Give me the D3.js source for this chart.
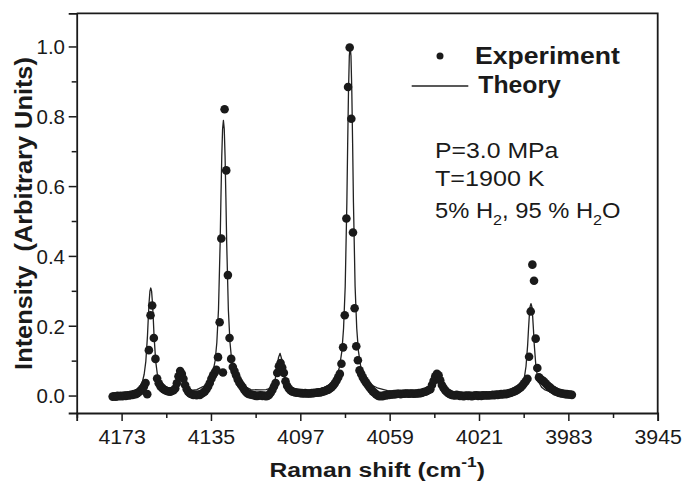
<!DOCTYPE html>
<html><head><meta charset="utf-8">
<script src="https://cdn.jsdelivr.net/npm/d3@7"></script>
<style>
body{margin:0;background:#fff}
svg{display:block}
text{font-family:"Liberation Sans",Arial,Helvetica,sans-serif;fill:#1a1a1a}
</style>
</head><body>
<svg id="chart" width="685" height="484"></svg>
<script>
// ---------- data ----------
const expShift = [
4176.8,4176.1,4175.4,4174.7,4174.0,4173.3,4172.6,4171.9,4171.2,4170.5,
4169.8,4169.1,4168.4,4167.7,4167.0,4166.3,4165.6,4164.9,4164.2,4163.5,
4162.8,4162.1,4161.4,4160.7,4160.0,4159.3,4158.6,4157.9,4157.2,4156.5,
4155.8,4155.1,4154.4,4153.7,4153.0,4152.3,4151.6,4150.9,4150.2,4149.5,
4148.8,4148.1,4147.4,4146.7,4146.0,4145.3,4144.6,4143.9,4143.2,4142.5,
4141.8,4141.1,4140.4,4139.7,4139.0,4138.3,4137.6,4136.9,4136.2,4135.5,
4134.8,4134.1,4133.4,4132.7,4132.0,4131.3,4130.6,4129.9,4129.2,4128.5,
4127.8,4127.1,4126.4,4125.7,4125.0,4124.3,4123.6,4122.9,4122.2,4121.5,
4120.8,4120.1,4119.4,4118.7,4118.0,4117.3,4116.6,4115.9,4115.2,4114.5,
4113.8,4113.1,4112.4,4111.7,4111.0,4110.3,4109.6,4108.9,4108.2,4107.5,
4106.8,4106.1,4105.4,4104.7,4104.0,4103.3,4102.6,4101.9,4101.2,4100.5,
4099.8,4099.1,4098.4,4097.7,4097.0,4096.3,4095.6,4094.9,4094.2,4093.5,
4092.8,4092.1,4091.4,4090.7,4090.0,4089.3,4088.6,4087.9,4087.2,4086.5,
4085.8,4085.1,4084.4,4083.7,4083.0,4082.3,4081.6,4080.9,4080.2,4079.5,
4078.8,4078.1,4077.4,4076.7,4076.0,4075.3,4074.6,4073.9,4073.2,4072.5,
4071.8,4071.1,4070.4,4069.7,4069.0,4068.3,4067.6,4066.9,4066.2,4065.5,
4064.8,4064.1,4063.4,4062.7,4062.0,4061.3,4060.6,4059.9,4059.2,4058.5,
4057.8,4057.1,4056.4,4055.7,4055.0,4054.3,4053.6,4052.9,4052.2,4051.5,
4050.8,4050.1,4049.4,4048.7,4048.0,4047.3,4046.6,4045.9,4045.2,4044.5,
4043.8,4043.1,4042.4,4041.7,4041.0,4040.3,4039.6,4038.9,4038.2,4037.5,
4036.8,4036.1,4035.4,4034.7,4034.0,4033.3,4032.6,4031.9,4031.2,4030.5,
4029.8,4029.1,4028.4,4027.7,4027.0,4026.3,4025.6,4024.9,4024.2,4023.5,
4022.8,4022.1,4021.4,4020.7,4020.0,4019.3,4018.6,4017.9,4017.2,4016.5,
4015.8,4015.1,4014.4,4013.7,4013.0,4012.3,4011.6,4010.9,4010.2,4009.5,
4008.8,4008.1,4007.4,4006.7,4006.0,4005.3,4004.6,4003.9,4003.2,4002.5,
4001.8,4001.1,4000.4,3999.7,3999.0,3998.3,3997.6,3996.9,3996.2,3995.5,
3994.8,3994.1,3993.4,3992.7,3992.0,3991.3,3990.6,3989.9,3989.2,3988.5,
3987.8,3987.1,3986.4,3985.7,3985.0,3984.3,3983.6,3982.9,3982.2,3981.5
];
const expIntensity = [
-0.003,-0.002,-0.003,-0.001,-0.002,-0.001,-0.002,0.000,-0.001,0.001,
0.000,0.002,0.002,0.004,0.004,0.007,0.010,0.014,0.020,0.026,
0.036,0.004,0.130,0.230,0.258,0.165,0.105,0.049,0.035,0.027,
0.022,0.018,0.015,0.013,0.012,0.011,0.013,0.015,0.020,0.035,
0.055,0.070,0.062,0.048,0.030,0.018,0.010,0.006,0.004,0.002,
0.003,0.001,0.003,0.002,0.005,0.008,0.012,0.018,0.026,0.036,
0.048,0.058,0.066,0.074,0.110,0.210,0.450,0.066,0.820,0.645,
0.345,0.165,0.105,0.082,0.070,0.058,0.046,0.037,0.030,0.024,
0.016,0.010,0.006,0.004,0.003,0.002,0.001,-0.001,-0.001,0.000,
0.001,-0.001,0.000,-0.002,-0.001,0.002,0.008,0.016,0.026,0.036,
0.065,0.084,0.093,0.080,0.065,0.041,0.028,0.020,0.015,0.012,
0.010,0.009,0.008,0.008,0.007,0.007,0.006,0.007,0.006,0.006,
0.006,0.007,0.007,0.008,0.008,0.009,0.009,0.010,0.012,0.013,
0.015,0.017,0.020,0.024,0.029,0.035,0.043,0.052,0.062,0.091,
0.138,0.230,0.507,0.884,0.997,0.793,0.467,0.250,0.141,0.101,
0.072,0.062,0.052,0.044,0.037,0.030,0.024,0.018,0.012,0.008,
0.004,0.000,-0.002,-0.001,-0.002,0.001,0.000,0.002,0.002,0.003,
0.003,0.004,0.004,0.005,0.005,0.004,0.005,0.005,0.006,0.006,
0.005,0.006,0.006,0.005,0.006,0.006,0.007,0.007,0.008,0.010,
0.011,0.013,0.016,0.018,0.030,0.042,0.055,0.062,0.058,0.044,
0.030,0.022,0.015,0.010,0.007,0.004,0.002,0.001,0.000,0.002,
0.001,-0.001,0.000,-0.002,-0.001,0.000,-0.001,0.000,-0.002,-0.001,
0.000,0.001,-0.001,0.000,-0.001,0.001,0.000,0.001,0.000,0.001,
0.001,0.002,0.001,0.003,0.002,0.003,0.004,0.003,0.005,0.004,
0.006,0.007,0.008,0.010,0.012,0.014,0.017,0.020,0.024,0.029,
0.035,0.041,0.048,0.111,0.241,0.375,0.329,0.163,0.079,0.052,
0.047,0.044,0.040,0.035,0.030,0.026,0.022,0.018,0.015,0.012,
0.010,0.008,0.007,0.006,0.005,0.004,0.004,0.003,0.003,0.002
];
const theoryShift = [
4177.0,4172.0,4168.5,4166.5,4165.1,4164.1,4163.4,4162.7,4162.0,4161.65,4161.3,4160.95,4160.6,
4160.25,4159.9,4159.55,4159.2,4158.5,4157.8,4157.1,4156.1,4154.6,4152.7,4151.7,4150.3,4149.6,
4148.9,4148.2,4147.5,4146.8,4146.1,4145.0,4143.5,4141.0,4137.7,4135.7,4134.2,4133.2,4132.5,
4131.8,4131.1,4130.75,4130.4,4130.05,4129.7,4129.35,4129.0,4128.65,4128.3,4127.6,4126.9,4126.2,
4125.2,4123.7,4121.7,4118.0,4114.0,4111.6,4110.1,4109.1,4108.4,4107.7,4107.0,4106.3,4105.6,
4104.9,4104.2,4103.5,4102.8,4102.1,4101.1,4099.6,4096.0,4092.0,4087.7,4084.7,4082.7,4081.3,
4080.3,4079.3,4078.6,4077.9,4077.2,4076.85,4076.5,4076.15,4075.8,4075.45,4075.1,4074.75,4074.4,
4073.7,4073.0,4072.3,4071.3,4070.3,4068.9,4066.9,4063.9,4059.9,4055.0,4050.0,4045.4,4043.4,
4042.4,4041.7,4041.0,4040.3,4039.6,4038.9,4038.2,4037.5,4036.8,4036.1,4034.9,4032.4,4027.4,
4021.4,4015.6,4011.6,4008.6,4006.9,4004.9,4003.4,4002.4,4001.7,4001.0,4000.3,3999.95,3999.6,
3999.25,3998.9,3998.55,3998.2,3997.85,3997.5,3996.8,3996.1,3995.4,3994.4,3992.9,3990.9,3987.6,
3984.6,3981.5
];
const theoryIntensity = [
0.000,0.004,0.012,0.018,0.027,0.041,0.061,0.098,0.171,0.223,0.268,0.299,0.308,
0.299,0.268,0.223,0.171,0.098,0.061,0.041,0.029,0.021,0.018,0.020,0.030,0.045,
0.066,0.073,0.066,0.045,0.030,0.019,0.015,0.017,0.028,0.042,0.066,0.101,0.152,
0.246,0.435,0.568,0.686,0.764,0.788,0.764,0.686,0.568,0.435,0.246,0.152,0.101,
0.066,0.042,0.030,0.017,0.016,0.017,0.020,0.024,0.032,0.046,0.075,0.108,0.121,
0.104,0.071,0.044,0.030,0.023,0.020,0.017,0.015,0.015,0.021,0.031,0.043,0.060,
0.083,0.128,0.193,0.313,0.553,0.723,0.873,0.973,1.000,0.973,0.873,0.723,0.553,
0.313,0.193,0.128,0.083,0.060,0.043,0.031,0.021,0.014,0.010,0.008,0.010,0.011,
0.013,0.017,0.024,0.036,0.051,0.058,0.051,0.034,0.023,0.016,0.012,0.008,0.006,
0.005,0.006,0.007,0.009,0.011,0.016,0.024,0.036,0.052,0.084,0.146,0.190,0.229,
0.255,0.263,0.255,0.229,0.190,0.146,0.084,0.052,0.036,0.024,0.016,0.011,0.008,
0.006,0.005
];
const xTicks = [4173, 4135, 4097, 4059, 4021, 3983, 3945];
const xMinorTicks = [4192, 4154, 4116, 4078, 4040, 4002, 3964];
const yTicks = [0.0, 0.2, 0.4, 0.6, 0.8, 1.0];
const yMinorTicks = [0.1, 0.3, 0.5, 0.7, 0.9];
const legendLabels = ["Experiment", "Theory"];
const conditionLines = ["P=3.0 MPa", "T=1900 K"];
const compositionParts = [["5% H", 0], ["2", 1], [", 95 % H", 0], ["2", 1], ["O", 0]];
const xTitle = ["Raman shift (cm", "-1", ")"];
const yTitle = "Intensity  (Arbitrary Units)";

// ---------- layout ----------
const svg = d3.select("#chart");
const L = 76.7, R = 657.7, T = 13.3, B = 413;
const x = d3.scaleLinear().domain([4192.1, 3945]).range([L, R]);
const y = d3.scaleLinear().domain([-0.05, 1.095]).range([B, T]);
const ink = "#1a1a1a";

// frame (top/right)
svg.append("path")
  .attr("d", `M${L},${T}H${R}V${B}`)
  .attr("fill", "none").attr("stroke", ink).attr("stroke-width", 1.8);

// x axis major
const gx = svg.append("g").attr("transform", `translate(0,${B})`)
  .call(d3.axisBottom(x).tickValues(xTicks).tickSize(8).tickPadding(8.3).tickFormat(d3.format("d")));
gx.select(".domain").attr("stroke", ink).attr("stroke-width", 1.8);
gx.selectAll(".tick line").attr("stroke", ink).attr("stroke-width", 1.5);
gx.selectAll(".tick text").attr("font-size", 20.5).attr("fill", ink)
  .attr("font-family", '"Liberation Sans",Arial,sans-serif')
  .attr("transform", "scale(1.04,1)");
// x axis minor
const gxm = svg.append("g").attr("transform", `translate(0,${B})`)
  .call(d3.axisBottom(x).tickValues(xMinorTicks).tickSize(5).tickFormat(""));
gxm.select(".domain").remove();
gxm.selectAll(".tick line").attr("stroke", ink).attr("stroke-width", 1.5);

// y axis major
const gy = svg.append("g").attr("transform", `translate(${L},0)`)
  .call(d3.axisLeft(y).tickValues(yTicks).tickSize(8).tickPadding(3.7).tickFormat(d3.format(".1f")));
gy.select(".domain").attr("stroke", ink).attr("stroke-width", 1.8);
gy.selectAll(".tick line").attr("stroke", ink).attr("stroke-width", 1.5);
gy.selectAll(".tick text").attr("font-size", 20.5).attr("fill", ink)
  .attr("font-family", '"Liberation Sans",Arial,sans-serif').attr("dy", "0.36em");
const gym = svg.append("g").attr("transform", `translate(${L},0)`)
  .call(d3.axisLeft(y).tickValues(yMinorTicks).tickSize(5).tickFormat(""));
gym.select(".domain").remove();
gym.selectAll(".tick line").attr("stroke", ink).attr("stroke-width", 1.5);

// theory line
const theory = theoryShift.map((s, i) => [s, theoryIntensity[i]]);
svg.append("path").datum(theory)
  .attr("fill", "none").attr("stroke", "#222").attr("stroke-width", 1.3)
  .attr("stroke-linejoin", "round")
  .attr("d", d3.line().x(d => x(d[0])).y(d => y(d[1])));

// experiment points
const exp = expShift.map((s, i) => [s, expIntensity[i]]);
svg.append("g").selectAll("circle").data(exp).join("circle")
  .attr("cx", d => x(d[0])).attr("cy", d => y(d[1])).attr("r", 4.3)
  .attr("fill", ink);

// helper: stretch text horizontally to a target width
function fit(sel, width) {
  const w = sel.node().getBBox().width;
  return width / w;
}

// legend
svg.append("circle").attr("cx", 440).attr("cy", 56).attr("r", 3.5).attr("fill", ink);
const t1 = svg.append("text").attr("font-size", 24).attr("font-weight", "bold").text(legendLabels[0]);
t1.attr("transform", `translate(475,64) scale(${fit(t1, 145)},1)`);
svg.append("line").attr("x1", 411.7).attr("x2", 468.3).attr("y1", 86).attr("y2", 86)
  .attr("stroke", "#222").attr("stroke-width", 1.3);
const t2 = svg.append("text").attr("font-size", 24).attr("font-weight", "bold").text(legendLabels[1]);
t2.attr("transform", `translate(478.3,93.3) scale(${fit(t2, 83.3)},1)`);

// conditions
const c1 = svg.append("text").attr("font-size", 22).text(conditionLines[0]);
c1.attr("transform", `translate(435,158.3) scale(${fit(c1, 124.3)},1)`);
const c2 = svg.append("text").attr("font-size", 22).text(conditionLines[1]);
c2.attr("transform", `translate(435,186) scale(${fit(c2, 110)},1)`);
const c3 = svg.append("text").attr("font-size", 22);
let prevSub = 0;
compositionParts.forEach(([txt, sub]) => {
  c3.append("tspan").attr("font-size", sub ? 15 : 22)
    .attr("dy", sub === prevSub ? 0 : (sub ? 6.5 : -6.5)).text(txt);
  prevSub = sub;
});
c3.attr("transform", `translate(435,218.3) scale(${fit(c3, 185.7)},1)`);

// x title
const xt = svg.append("text").attr("font-size", 20).attr("font-weight", "bold").attr("text-anchor", "middle");
xt.append("tspan").text(xTitle[0]);
xt.append("tspan").attr("font-size", 14).attr("dy", -10).text(xTitle[1]);
xt.append("tspan").attr("dy", 10).text(xTitle[2]);
xt.attr("transform", `translate(377.2,477.3) scale(${fit(xt, 215.7)},1)`);

// y title
const yt = svg.append("text").attr("font-size", 23).attr("font-weight", "bold").attr("text-anchor", "middle")
  .style("white-space", "pre").text(yTitle);
yt.attr("transform", `translate(31.5,213.5) rotate(-90) scale(${fit(yt, 313)},1)`);
</script>
</body></html>
